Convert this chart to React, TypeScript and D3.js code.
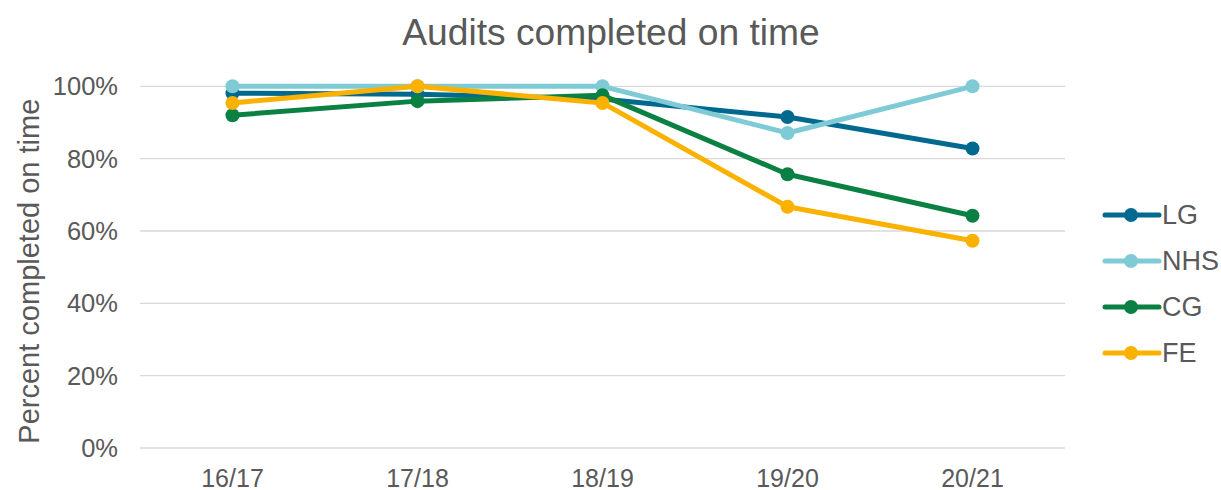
import React from "react";
import { scaleBand, scaleLinear, line } from "d3";

const years = ["16/17", "17/18", "18/19", "19/20", "20/21"];
const seriesNames = ["LG", "NHS", "CG", "FE"];
const lgValues = [0.981, 0.978, 0.965, 0.915, 0.828];
const nhsValues = [1.0, 1.0, 1.0, 0.871, 1.0];
const cgValues = [0.92, 0.959, 0.975, 0.757, 0.642];
const feValues = [0.954, 1.0, 0.954, 0.667, 0.573];
const yTicks = [0, 0.2, 0.4, 0.6, 0.8, 1.0];
const colors = ["#00698F", "#7FCBD5", "#0A8043", "#FBB100"];

const W = 1221;
const H = 490;
const font = "'Liberation Sans', Arial, sans-serif";
const textColor = "#595959";

export default function App() {
  const x = scaleBand().domain(years).range([140, 1065]);
  const y = scaleLinear().domain([0, 1]).range([448, 86.3]);
  const cx = (d: string) => (x(d) ?? 0) + x.bandwidth() / 2;

  const data = [lgValues, nhsValues, cgValues, feValues];
  const gen = line<number>()
    .x((_, i) => cx(years[i]))
    .y((v) => y(v));

  return (
    <svg width={W} height={H} style={{ position: "absolute", left: 0, top: 0, background: "#fff" }}>
      <text x={611} y={45} textAnchor="middle" fontFamily={font} fontSize={37.2} fill={textColor}>
        Audits completed on time
      </text>

      {/* gridlines and y labels */}
      {yTicks.map((t) => (
        <g key={t}>
          <line x1={140} x2={1065} y1={y(t)} y2={y(t)} stroke="#D9D9D9" strokeWidth={1.3} />
          <text x={118} y={y(t)} dy="0.35em" textAnchor="end" fontFamily={font} fontSize={25.5} fill={textColor}>
            {Math.round(t * 100)}%
          </text>
        </g>
      ))}

      {years.map((yr) => (
        <text key={yr} x={cx(yr)} y={486.5} textAnchor="middle" fontFamily={font} fontSize={25} fill={textColor}>
          {yr}
        </text>
      ))}

      <text
        transform={`translate(29, ${y(0.5) + 4}) rotate(-90)`}
        textAnchor="middle"
        dy="0.35em"
        fontFamily={font}
        fontSize={29}
        fill={textColor}
      >
        Percent completed on time
      </text>

      {/* series */}
      {data.map((vals, s) => (
        <g key={seriesNames[s]}>
          <path d={gen(vals) ?? ""} fill="none" stroke={colors[s]} strokeWidth={5} strokeLinejoin="round" strokeLinecap="round" />
          {vals.map((v, i) => (
            <circle key={i} cx={cx(years[i])} cy={y(v)} r={7} fill={colors[s]} />
          ))}
        </g>
      ))}

      {/* legend */}
      {seriesNames.map((name, s) => {
        const ly = 215 + s * 46;
        return (
          <g key={name}>
            <line x1={1105} x2={1159} y1={ly} y2={ly} stroke={colors[s]} strokeWidth={5} strokeLinecap="round" />
            <circle cx={1131} cy={ly} r={7} fill={colors[s]} />
            <text x={1162} y={ly} dy="0.35em" fontFamily={font} fontSize={27} fill={textColor}>
              {name}
            </text>
          </g>
        );
      })}
    </svg>
  );
}
